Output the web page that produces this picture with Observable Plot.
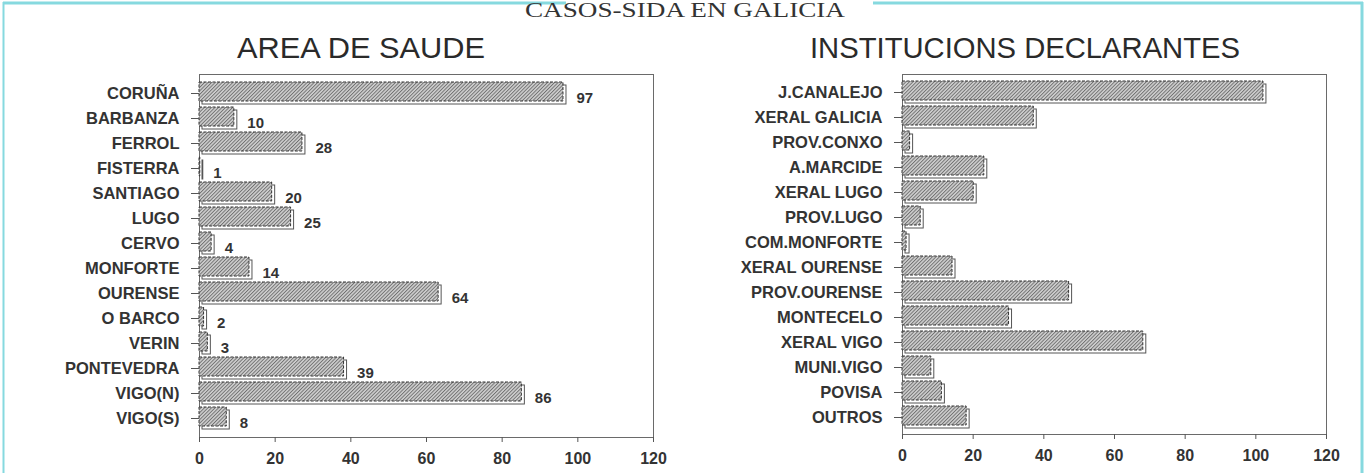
<!DOCTYPE html>
<html>
<head>
<meta charset="utf-8">
<script src="https://cdn.jsdelivr.net/npm/d3@7"></script>
<script src="https://cdn.jsdelivr.net/npm/@observablehq/plot@0.6"></script>
<style>
  html, body { margin: 0; padding: 0; background: #fff; }
  #root { position: relative; width: 1367px; height: 473px; overflow: hidden; background: #fff; }
  #root > svg { position: absolute; top: 0; }
</style>
</head>
<body>
<div id="root"></div>
<script>
// ---- data ----
const mainTitle = "CASOS-SIDA EN GALICIA";
const leftTitle = "AREA DE SAUDE";
const rightTitle = "INSTITUCIONS DECLARANTES";

const areaLabels = ["CORUÑA","BARBANZA","FERROL","FISTERRA","SANTIAGO","LUGO","CERVO","MONFORTE","OURENSE","O BARCO","VERIN","PONTEVEDRA","VIGO(N)","VIGO(S)"];
const areaValues = [97,10,28,1,20,25,4,14,64,2,3,39,86,8];

const instLabels = ["J.CANALEJO","XERAL GALICIA","PROV.CONXO","A.MARCIDE","XERAL LUGO","PROV.LUGO","COM.MONFORTE","XERAL OURENSE","PROV.OURENSE","MONTECELO","XERAL VIGO","MUNI.VIGO","POVISA","OUTROS"];
const instValues = [103,38,3,24,21,6,2,15,48,31,69,9,12,19];

const xTicks = [0,20,40,60,80,100,120];
const xDomain = [0,120];

// ---- helpers ----
const root = document.getElementById("root");
const font = "'Liberation Sans', Arial, sans-serif";

function chart(labels, values, opts) {
  const data = labels.map((label, i) => ({label, value: values[i]}));
  const marks = [
    Plot.frame({stroke: "#6a6a6a", strokeWidth: 1}),
    Plot.barX(data, {x: "value", y: "label", fill: "white", stroke: "#555", strokeWidth: 1, insetLeft: 3, insetTop: 3}),
    Plot.barX(data, {x: "value", y: "label", fill: "url(#hatch)", stroke: "#333", strokeWidth: 1, strokeDasharray: "3,1.5", insetRight: 3, insetBottom: 3}),
    Plot.axisX({ticks: xTicks, tickSize: 5, tickPadding: 10, label: null, stroke: "#555", fontSize: 16}),
    Plot.axisY({tickSize: 8, tickPadding: 12, label: null, stroke: "#555", fontSize: 16.5})
  ];
  if (opts.valueLabels) {
    marks.push(Plot.text(data, {x: "value", y: "label", text: d => String(d.value), dx: 10, dy: 5, textAnchor: "start", fill: "#333", fontSize: 15}));
  }
  const svg = Plot.plot({
    width: opts.width, height: 473,
    marginTop: 74, marginBottom: opts.marginBottom, marginLeft: opts.marginLeft, marginRight: opts.marginRight,
    x: {domain: xDomain},
    y: {domain: labels, padding: 0.12},
    style: {fontFamily: font, fontWeight: "bold", fontSize: "15px", color: "#333", background: "transparent", overflow: "visible"},
    marks
  });
  svg.style.left = opts.left + "px";
  return svg;
}

const left = chart(areaLabels, areaValues, {width: 683, left: 0, marginLeft: 199, marginRight: 30, marginBottom: 36, valueLabels: true});
const right = chart(instLabels, instValues, {width: 684, left: 683, marginLeft: 219, marginRight: 41, marginBottom: 39, valueLabels: false});
root.appendChild(left);
root.appendChild(right);

// ---- overlay: pattern, borders, titles ----
const ov = d3.select(root).append("svg")
  .attr("width", 1367).attr("height", 473)
  .style("left", "0px").style("pointer-events", "none");

const pat = ov.append("defs").append("pattern")
  .attr("id", "hatch").attr("patternUnits", "userSpaceOnUse")
  .attr("width", 2.5).attr("height", 2.5).attr("patternTransform", "rotate(45)");
pat.append("rect").attr("width", 2.5).attr("height", 2.5).attr("fill", "#d0d0d0");
pat.append("line").attr("x1", 0.5).attr("y1", 0).attr("x2", 0.5).attr("y2", 2.5).attr("stroke", "#6a6a6a").attr("stroke-width", 0.9);

const cyan = "#86d9df";
ov.append("line").attr("x1", 3.5).attr("y1", 2).attr("x2", 3.5).attr("y2", 473).attr("stroke", cyan).attr("stroke-width", 2);
ov.append("line").attr("x1", 1362).attr("y1", 2).attr("x2", 1362).attr("y2", 473).attr("stroke", cyan).attr("stroke-width", 3);
ov.append("line").attr("x1", 3).attr("y1", 3).attr("x2", 566).attr("y2", 3).attr("stroke", cyan).attr("stroke-width", 3);
ov.append("line").attr("x1", 873).attr("y1", 3).attr("x2", 1363).attr("y2", 3).attr("stroke", cyan).attr("stroke-width", 3);

ov.append("text").text(mainTitle)
  .attr("x", 525).attr("y", 17)
  .attr("textLength", 320).attr("lengthAdjust", "spacingAndGlyphs")
  .attr("font-family", "'Liberation Serif', 'Times New Roman', serif")
  .attr("font-size", 20).attr("fill", "#333");

ov.append("text").text(leftTitle)
  .attr("x", 237).attr("y", 58)
  .attr("textLength", 248).attr("lengthAdjust", "spacingAndGlyphs")
  .attr("font-family", font).attr("font-size", 30).attr("fill", "#2a2a2a");

ov.append("text").text(rightTitle)
  .attr("x", 810).attr("y", 58)
  .attr("textLength", 430).attr("lengthAdjust", "spacingAndGlyphs")
  .attr("font-family", font).attr("font-size", 30).attr("fill", "#2a2a2a");
</script>
</body>
</html>
